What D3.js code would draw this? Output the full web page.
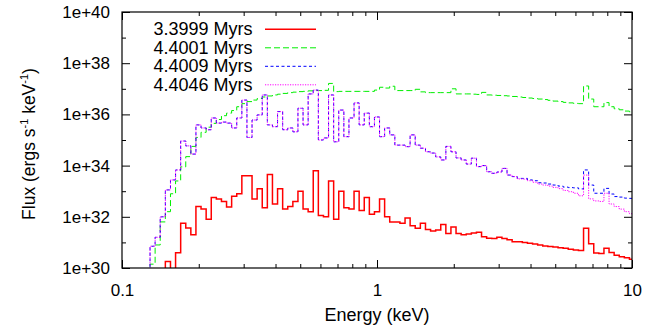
<!DOCTYPE html>
<html>
<head>
<meta charset="utf-8">
<script src="https://cdn.jsdelivr.net/npm/d3@7"></script>
<style>
body { margin: 0; background: #fff; }
text { font-family: "Liberation Sans", Arial, sans-serif; }
</style>
</head>
<body>
<svg id="chart" width="657" height="326"></svg>
<script>
// bin centres (keV)
const energy = [
  0.1259, 0.1318, 0.1380, 0.1445, 0.1514, 0.1585, 0.1660, 0.1738, 0.1820, 0.1905,
  0.1995, 0.2089, 0.2188, 0.2291, 0.2399, 0.2512, 0.2630, 0.2754, 0.2884, 0.3020,
  0.3162, 0.3311, 0.3467, 0.3631, 0.3802, 0.3981, 0.4169, 0.4365, 0.4571, 0.4786,
  0.5012, 0.5248, 0.5495, 0.5754, 0.6026, 0.6310, 0.6607, 0.6918, 0.7244, 0.7586,
  0.7943, 0.8318, 0.8710, 0.9120, 0.9550, 1.000, 1.047, 1.096, 1.148, 1.202,
  1.259, 1.318, 1.380, 1.445, 1.514, 1.585, 1.660, 1.738, 1.820, 1.905,
  1.995, 2.089, 2.188, 2.291, 2.399, 2.512, 2.630, 2.754, 2.884, 3.020,
  3.162, 3.311, 3.467, 3.631, 3.802, 3.981, 4.169, 4.365, 4.571, 4.786,
  5.012, 5.248, 5.495, 5.754, 6.026, 6.310, 6.607, 6.918, 7.244, 7.586,
  7.943, 8.318, 8.710, 9.120, 9.550, 10.00
]

// log10 of flux (ergs s^-1 keV^-1) for each snapshot
const flux33999 = [
  29, 29, 29, 29, 30.25, 29.9, 30.6, 31.75, 31.56, 31.3,
  32.4, 32.3, 31.9, 32.75, 32.7, 32.6, 32.38, 32.8, 32.9, 33.6,
  33.6, 32.7, 33.1, 32.35, 33.65, 32.5, 33.1, 32.3, 32.4, 32.6,
  33.0, 32.3, 32.2, 33.8, 32.05, 32.0, 33.4, 31.9, 33.0, 32.35,
  32.3, 33.0, 32.25, 32.75, 32.1, 32.2, 32.7, 32.0, 31.8, 31.8,
  31.75, 31.95, 31.65, 31.55, 31.75, 31.5, 31.45, 31.48, 31.7, 31.35,
  31.6, 31.35, 31.3, 31.33, 31.37, 31.4, 31.22, 31.16, 31.15, 31.2,
  31.15, 31.1, 31.03, 31.03, 31.0, 30.97, 30.94, 30.9, 30.86, 30.84,
  30.82, 30.79, 30.77, 30.73, 30.7, 30.68, 31.55, 30.95, 30.59, 30.57,
  30.77, 30.61, 30.5, 30.44, 30.4, 30.34
]
const flux44001 = [
  29.8, 30.15, 30.9, 31.8, 32.2, 32.9, 33.4, 33.95, 34.35, 34.75,
  35.1, 35.3, 35.5, 35.65, 35.8, 35.95, 36.05, 36.15, 36.3, 36.42,
  36.5, 36.56, 36.62, 36.68, 36.72, 36.76, 36.79, 36.82, 36.85, 36.87,
  36.89, 36.9, 36.92, 36.93, 36.93, 36.94, 37.21, 36.89, 36.9, 36.9,
  36.9, 36.9, 36.9, 36.9, 36.9, 36.95, 37.06, 37.03, 37.1, 36.93,
  36.93, 36.93, 36.93, 36.98, 36.88, 36.85, 36.85, 36.85, 36.85, 36.85,
  37.0, 36.8, 36.8, 36.8, 36.79, 36.78, 36.86, 36.76, 36.75, 36.74,
  36.73, 36.72, 36.7, 36.68, 36.66, 36.64, 36.62, 36.6, 36.58, 36.55,
  36.52, 36.5, 36.47, 36.45, 36.43, 36.42, 37.11, 36.6, 36.3, 36.3,
  36.46, 36.3, 36.22, 36.18, 36.13, 36.1
]
const flux44009 = [
  29.5, 30.85, 31.2, 32.0, 33.05, 33.44, 33.83, 34.96, 34.77, 34.45,
  35.59, 35.47, 35.4, 35.86, 35.66, 35.7, 35.66, 35.47, 35.86, 36.56,
  35.1, 35.78, 35.98, 36.76, 35.59, 35.52, 36.11, 35.4, 35.47, 35.32,
  36.24, 35.59, 36.8, 36.95, 35.0, 35.08, 36.76, 34.93, 36.17, 35.13,
  35.86, 36.45, 35.59, 36.05, 35.52, 35.9, 35.13, 35.47, 35.2, 34.8,
  34.8, 34.74, 35.2, 34.8, 34.68, 34.54, 34.49, 34.34, 34.22, 34.75,
  34.54, 34.3, 34.22, 34.06, 34.29, 33.96, 34.0, 33.76, 33.7, 33.75,
  33.89, 33.63, 33.57, 33.5, 33.5, 33.44, 33.41, 33.33, 33.32, 33.28,
  33.24, 33.2, 33.16, 33.14, 33.13, 33.09, 33.83, 33.24, 32.92, 32.92,
  33.11, 32.89, 32.79, 32.77, 32.73, 32.72
]
const flux44046 = [
  29.5, 30.85, 31.2, 32.0, 33.05, 33.44, 33.83, 34.96, 34.77, 34.45,
  35.59, 35.47, 35.4, 35.86, 35.66, 35.7, 35.66, 35.47, 35.86, 36.56,
  35.1, 35.78, 35.98, 36.76, 35.59, 35.52, 36.11, 35.4, 35.47, 35.32,
  36.24, 35.59, 36.8, 36.95, 35.0, 35.08, 36.76, 34.93, 36.17, 35.13,
  35.86, 36.45, 35.59, 36.05, 35.52, 35.9, 35.13, 35.47, 35.2, 34.8,
  34.8, 34.74, 35.2, 34.8, 34.68, 34.54, 34.49, 34.34, 34.22, 34.75,
  34.54, 34.3, 34.22, 34.06, 34.29, 33.96, 34.0, 33.76, 33.7, 33.75,
  33.89, 33.63, 33.57, 33.48, 33.47, 33.41, 33.35, 33.28, 33.24, 33.2,
  33.15, 33.1, 33.03, 32.98, 32.92, 32.82, 33.63, 32.7, 32.62, 32.6,
  32.92, 32.5, 32.4, 32.3, 32.2, 32.12
]

const seriesNames = ["3.3999 Myrs", "4.4001 Myrs", "4.4009 Myrs", "4.4046 Myrs"]
const xMajor = [0.1, 1, 10]
const xMinor = [0.2, 0.3, 0.4, 0.5, 0.6, 0.7, 0.8, 0.9, 2, 3, 4, 5, 6, 7, 8, 9]
const yMajor = [1e30, 1e32, 1e34, 1e36, 1e38, 1e40]
const yMinor = [1e31, 1e33, 1e35, 1e37, 1e39]

const W = 657, H = 326
const margin = {top: 12, right: 25, bottom: 58, left: 122}
const font = '"Liberation Sans", Arial, sans-serif'

const svg = d3.select('#chart')

const x = d3.scaleLog().domain([0.1, 10]).range([margin.left, W - margin.right])
const y = d3.scaleLog().domain([1e30, 1e40]).range([H - margin.bottom, margin.top])

svg.append('defs').append('clipPath').attr('id', 'plotclip')
  .append('rect')
  .attr('x', margin.left).attr('y', margin.top)
  .attr('width', W - margin.left - margin.right)
  .attr('height', H - margin.top - margin.bottom)

const styles = [
  {color: '#ff0000', width: 1.5, dash: null},
  {color: '#00ee00', width: 1, dash: '6,3'},
  {color: '#0000ff', width: 1, dash: '3,2.5'},
  {color: '#ff00ff', width: 1, dash: '1.2,1.3'}
]
const allSeries = [flux33999, flux44001, flux44009, flux44046]

const line = d3.line()
  .curve(d3.curveStep)
  .x((d, i) => x(energy[i]))
  .y(d => y(Math.pow(10, d)))

const plot = svg.append('g').attr('clip-path', 'url(#plotclip)')
allSeries.forEach((s, k) => {
  plot.append('path')
    .attr('d', line(s))
    .attr('fill', 'none')
    .attr('stroke', styles[k].color)
    .attr('stroke-width', styles[k].width)
    .attr('stroke-dasharray', styles[k].dash)
})

// axes (ticks point inwards, mirrored on all four sides)
const x0 = H - margin.bottom, x1 = margin.top
const styleAxis = g => {
  g.select('.domain').remove()
  g.attr('font-size', 17).attr('font-family', font)
  g.selectAll('text').attr('fill', '#000')
}

svg.append('g').attr('transform', `translate(0,${x0})`)
  .call(d3.axisBottom(x).tickValues(xMajor).tickSize(-8).tickPadding(16).tickFormat(d => String(d)))
  .call(styleAxis)
svg.append('g').attr('transform', `translate(0,${x0})`)
  .call(d3.axisBottom(x).tickValues(xMinor).tickSize(-4).tickFormat(''))
  .call(styleAxis)
svg.append('g').attr('transform', `translate(0,${x1})`)
  .call(d3.axisTop(x).tickValues(xMajor).tickSize(-8).tickFormat(''))
  .call(styleAxis)
svg.append('g').attr('transform', `translate(0,${x1})`)
  .call(d3.axisTop(x).tickValues(xMinor).tickSize(-4).tickFormat(''))
  .call(styleAxis)

const yfmt = d => '1e+' + Math.round(Math.log10(d))
svg.append('g').attr('transform', `translate(${margin.left},0)`)
  .call(d3.axisLeft(y).tickValues(yMajor).tickSize(-8).tickPadding(12).tickFormat(yfmt))
  .call(styleAxis)
svg.append('g').attr('transform', `translate(${margin.left},0)`)
  .call(d3.axisLeft(y).tickValues(yMinor).tickSize(-4).tickFormat(''))
  .call(styleAxis)
svg.append('g').attr('transform', `translate(${W - margin.right},0)`)
  .call(d3.axisRight(y).tickValues(yMajor).tickSize(-8).tickFormat(''))
  .call(styleAxis)
svg.append('g').attr('transform', `translate(${W - margin.right},0)`)
  .call(d3.axisRight(y).tickValues(yMinor).tickSize(-4).tickFormat(''))
  .call(styleAxis)

svg.append('rect')
  .attr('x', margin.left).attr('y', margin.top)
  .attr('width', W - margin.left - margin.right)
  .attr('height', H - margin.top - margin.bottom)
  .attr('fill', 'none').attr('stroke', '#000').attr('stroke-width', 1.2)

// axis titles
svg.append('text')
  .attr('x', (margin.left + W - margin.right) / 2).attr('y', 321)
  .attr('text-anchor', 'middle').attr('font-size', 18)
  .text('Energy (keV)')

const yl = svg.append('text')
  .attr('transform', 'translate(35,144) rotate(-90)')
  .attr('text-anchor', 'middle').attr('font-size', 17.5)
yl.append('tspan').text('Flux (ergs s')
yl.append('tspan').attr('dy', -7).attr('font-size', 11).text('-1')
yl.append('tspan').attr('dy', 7).text(' keV')
yl.append('tspan').attr('dy', -7).attr('font-size', 11).text('-1')
yl.append('tspan').attr('dy', 7).text(')')

// legend
const legend = svg.append('g')
seriesNames.forEach((name, k) => {
  const cy = 29.3 + k * 18.5
  legend.append('text')
    .attr('x', 252.5).attr('y', cy + 6)
    .attr('text-anchor', 'end').attr('font-size', 18)
    .text(name)
  legend.append('line')
    .attr('x1', 265).attr('x2', 316)
    .attr('y1', cy).attr('y2', cy)
    .attr('stroke', styles[k].color)
    .attr('stroke-width', styles[k].width)
    .attr('stroke-dasharray', styles[k].dash)
})
</script>
</body>
</html>
